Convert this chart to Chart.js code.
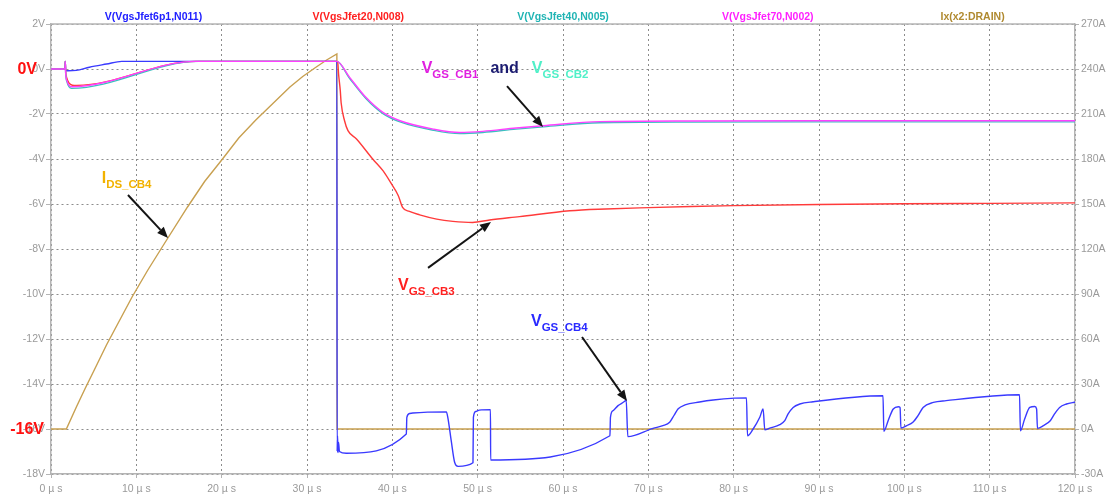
<!DOCTYPE html>
<html>
<head>
<meta charset="utf-8">
<script src="https://cdn.jsdelivr.net/npm/chart.js@4/dist/chart.umd.min.js"></script>
<style>
  html, body { margin: 0; padding: 0; background: #ffffff; }
  #wrap { width: 1113px; height: 496px; position: relative; }
</style>
</head>
<body>
<div id="wrap"><canvas id="c" width="1113" height="496"></canvas></div>
<script>
// Trace names shown above the plot
const seriesLabels = ['V(VgsJfet6p1,N011)', 'V(VgsJfet20,N008)', 'V(VgsJfet40,N005)', 'V(VgsJfet70,N002)', 'Ix(x2:DRAIN)'];

// Axis ticks
const timeTicks = [0, 10, 20, 30, 40, 50, 60, 70, 80, 90, 100, 110, 120];      // µs
const voltTicks = [-18, -16, -14, -12, -10, -8, -6, -4, -2, 0, 2];             // V
const ampTicks  = [-30, 0, 30, 60, 90, 120, 150, 180, 210, 240, 270];          // A

// V(VgsJfet6p1,N011)  -> VGS of CB4
const tCB4 = [0, 1.65, 1.67, 1.72, 2.0, 2.95, 4.5, 6.5, 8.3, 33.5, 33.53, 33.58, 33.63, 33.7, 33.8, 34.6,
  41.64, 41.7, 42.03, 42.4, 46.33, 46.5, 46.9, 47.3, 47.7, 49.45, 49.5, 49.77, 50.2, 51.5, 51.52,
  65.5, 65.56, 65.86, 66.45, 67.23, 67.4, 67.6, 70.55, 71.7, 72.5, 73.0, 73.5, 74.3, 76.0, 77.6, 80.1, 81.5,
  81.62, 82.28, 83.06, 83.45, 83.65, 84.23, 85.4, 85.99, 86.38, 86.97, 87.75, 89.3, 97.5,
  97.6, 98.1, 98.7, 99.3, 99.5, 99.6, 100.3, 101.0, 101.6, 102.2, 103.4, 104.9, 113.5,
  113.6, 114.1, 114.7, 115.3, 115.5, 115.6, 116.3, 117.1, 117.6, 118.2, 119.0, 119.8, 120];
const vCB4 = [0, 0, 0.33, -0.05, -0.08, -0.06, 0.08, 0.22, 0.34, 0.34, -17.0, -16.3, -17.05, -16.6, -17.0, -17.08,
  -16.22, -15.48, -15.31, -15.29, -15.24, -15.48, -16.52, -17.48, -17.66, -17.5, -15.48, -15.22, -15.16, -15.14, -17.38,
  -16.3, -15.48, -15.19, -14.96, -14.77, -14.7, -16.34, -15.97, -15.85, -15.7, -15.4, -15.1, -14.93, -14.8, -14.71, -14.63, -14.62,
  -16.3, -16.0, -15.48, -15.11, -16.04, -15.96, -15.81, -15.63, -15.33, -15.04, -14.89, -14.79, -14.52,
  -16.1, -15.63, -15.11, -15.01, -15.04, -15.96, -15.85, -15.7, -15.41, -15.04, -14.82, -14.74, -14.48,
  -16.08, -15.56, -15.04, -15.0, -15.11, -15.97, -15.85, -15.63, -15.33, -15.04, -14.89, -14.82, -14.81];

// V(VgsJfet20,N008)  -> VGS of CB3
const tCB3 = [0, 1.65, 1.67, 1.72, 1.85, 2.1, 2.5, 3.0, 17.0, 33.5, 33.6, 33.7, 33.9, 34.0, 34.4, 34.8, 35.8,
  37.7, 38.9, 39.9, 40.7, 41.2, 42.0, 43.2, 45.2, 47.1, 49.4, 51.4, 54.9, 60.8, 65, 70, 75, 80, 90, 100, 110, 120];
const vCB3 = [0, 0, 0.33, -0.1, -0.4, -0.62, -0.72, -0.73, 0.34, 0.34, 0.3, -0.22, -0.96, -1.5, -2.3, -2.74, -3.11,
  -4.0, -4.52, -5.11, -5.63, -6.15, -6.33, -6.48, -6.67, -6.77, -6.82, -6.71, -6.56, -6.3, -6.22, -6.16, -6.11, -6.07, -6.02, -5.99, -5.97, -5.95];

// V(VgsJfet40,N005)  -> VGS of CB2
const tCB2 = [0, 1.65, 1.67, 1.72, 1.9, 2.1, 2.4, 17.3, 33.5, 35.0, 36.9, 38.9, 40.9, 44.8, 47.9, 50.6, 54.5, 57.7, 64.3, 75, 90, 105, 120];
const vCB2 = [0, 0, 0.33, -0.2, -0.6, -0.78, -0.86, 0.34, 0.34, -0.42, -1.31, -1.98, -2.35, -2.72, -2.87, -2.82, -2.67, -2.57, -2.39, -2.36, -2.35, -2.35, -2.35];

// V(VgsJfet70,N002)  -> VGS of CB1
const tCB1 = [0, 1.65, 1.67, 1.72, 1.9, 2.1, 2.4, 17.0, 33.5, 35.0, 36.9, 38.9, 40.9, 44.8, 47.9, 50.6, 54.5, 57.7, 64.3, 75, 90, 105, 120];
const vCB1 = [0, 0, 0.33, -0.2, -0.55, -0.72, -0.79, 0.34, 0.34, -0.37, -1.26, -1.93, -2.3, -2.67, -2.82, -2.77, -2.62, -2.52, -2.34, -2.31, -2.3, -2.3, -2.3];

// Ix(x2:DRAIN)  -> IDS of CB4 (right axis, A)
const tIds = [0, 1.8, 3, 4, 5.3, 6.5, 8, 9.5, 11.35, 13.55, 16, 18, 20.1, 22, 24, 26, 28, 29.5, 31, 32.3, 33.5, 33.52, 120];
const aIds = [0, 0, 15, 27, 42, 56, 72, 88, 106, 126, 148, 165, 180, 194, 206, 217, 228, 235, 241, 246, 250, 0, 0];

const seriesColors = ['#3a3aff', '#ff3a3a', '#3cc0c0', '#ff40ff', '#c8a050'];
const legendColors = ['#2020ff', '#ff2020', '#20b4b4', '#ff20ff', '#b08a30'];

const pts = (ts, vs) => ts.map((t, i) => ({ x: t, y: vs[i] }));

const FONT = '"Liberation Sans", Arial, sans-serif';
const axisGray = '#b4b4b4';
const labelGray = '#9a9a9a';

// Callouts placed in data units (µs, V)
const callouts = [
  { at: [5.94, -5.08], parts: [{ t: 'I', c: '#f2b200' }, { t: 'DS_CB4', c: '#f2b200', sub: true }],
    arrow: [[9.02, -5.6], [13.71, -7.51]] },
  { at: [43.44, -0.19], parts: [{ t: 'V', c: '#e020e0' }, { t: 'GS_CB1', c: '#e020e0', sub: true },
      { t: 'and', c: '#1c1c70', gap: 12 }, { t: 'V', c: '#50f0c8', gap: 13 }, { t: 'GS_CB2', c: '#50f0c8', sub: true }],
    arrow: [[53.44, -0.76], [57.66, -2.58]] },
  { at: [40.67, -9.8], parts: [{ t: 'V', c: '#ff2020' }, { t: 'GS_CB3', c: '#ff2020', sub: true }],
    arrow: [[44.18, -8.84], [51.56, -6.8]] },
  { at: [56.25, -11.42], parts: [{ t: 'V', c: '#2a2aff' }, { t: 'GS_CB4', c: '#2a2aff', sub: true }],
    arrow: [[62.23, -11.91], [67.5, -14.76]] }
];
// Level markers beside the left axis
const levelMarks = [{ v: 0, text: '0V', dx: -14 }, { v: -16, text: '-16V', dx: -7 }];

const decor = {
  id: 'decor',
  beforeDatasetsDraw(chart) {
    const { ctx, chartArea: a } = chart;
    ctx.save();
    ctx.strokeStyle = axisGray;
    ctx.lineWidth = 1.5;
    ctx.beginPath();
    ctx.moveTo(a.left, a.top); ctx.lineTo(a.right, a.top);
    ctx.stroke();
    ctx.restore();
  },
  afterDraw(chart) {
    const { ctx, chartArea: a, scales } = chart;
    const X = v => scales.x.getPixelForValue(v);
    const Y = v => scales.y.getPixelForValue(v);
    ctx.save();
    // trace names across the top
    const slot = (a.right - a.left) / seriesLabels.length;
    ctx.font = 'bold 10.5px ' + FONT;
    ctx.textAlign = 'center';
    ctx.textBaseline = 'middle';
    seriesLabels.forEach((s, i) => {
      ctx.fillStyle = legendColors[i];
      ctx.fillText(s, a.left + slot * (i + 0.5), 17);
    });
    // level markers
    ctx.font = 'bold 16px ' + FONT;
    ctx.textAlign = 'right';
    ctx.fillStyle = '#ff1010';
    levelMarks.forEach(m => ctx.fillText(m.text, a.left + m.dx, Y(m.v) + 1));
    // callout arrows
    ctx.strokeStyle = '#141414';
    ctx.fillStyle = '#141414';
    ctx.lineWidth = 2;
    callouts.forEach(c => {
      const [p0, p1] = c.arrow;
      const x0 = X(p0[0]), y0 = Y(p0[1]), x1 = X(p1[0]), y1 = Y(p1[1]);
      const ang = Math.atan2(y1 - y0, x1 - x0);
      const hl = 11, hw = 4.5;
      const bx = x1 - hl * Math.cos(ang), by = y1 - hl * Math.sin(ang);
      ctx.beginPath(); ctx.moveTo(x0, y0); ctx.lineTo(bx, by); ctx.stroke();
      ctx.beginPath();
      ctx.moveTo(x1, y1);
      ctx.lineTo(bx + hw * Math.sin(ang), by - hw * Math.cos(ang));
      ctx.lineTo(bx - hw * Math.sin(ang), by + hw * Math.cos(ang));
      ctx.closePath(); ctx.fill();
    });
    // callout texts
    ctx.textAlign = 'left';
    ctx.textBaseline = 'alphabetic';
    callouts.forEach(c => {
      let x = X(c.at[0]);
      const yb = Y(c.at[1]);
      c.parts.forEach(p => {
        x += p.gap || 0;
        ctx.font = (p.sub ? 'bold 11.5px ' : 'bold 16px ') + FONT;
        ctx.fillStyle = p.c;
        ctx.fillText(p.t, x, yb + (p.sub ? 5 : 0));
        x += ctx.measureText(p.t).width;
      });
    });
    ctx.restore();
  }
};

const ds = (label, data, color, axis, order, smooth) => ({
  label, data, borderColor: color, backgroundColor: color, borderWidth: 1.4,
  pointRadius: 0, fill: false, yAxisID: axis, order,
  cubicInterpolationMode: smooth ? 'monotone' : 'default', tension: 0
});

new Chart(document.getElementById('c'), {
  type: 'line',
  data: {
    datasets: [
      ds(seriesLabels[0], pts(tCB4, vCB4), seriesColors[0], 'y', 4, true),
      ds(seriesLabels[1], pts(tCB3, vCB3), seriesColors[1], 'y', 3, true),
      ds(seriesLabels[2], pts(tCB2, vCB2), seriesColors[2], 'y', 2, true),
      ds(seriesLabels[3], pts(tCB1, vCB1), seriesColors[3], 'y', 1, true),
      ds(seriesLabels[4], pts(tIds, aIds), seriesColors[4], 'y2', 5, false)
    ]
  },
  options: {
    responsive: false,
    animation: false,
    events: [],
    layout: { padding: { top: 24, left: 0, right: 0, bottom: 0 } },
    plugins: { legend: { display: false }, tooltip: { enabled: false }, title: { display: false } },
    scales: {
      x: {
        type: 'linear', min: 0, max: 120,
        afterBuildTicks: s => { s.ticks = timeTicks.map(v => ({ value: v })); },
        afterFit: s => { s.height = 22; },
        ticks: { callback: v => v + ' µ s', color: labelGray, font: { family: FONT, size: 10.5 }, maxRotation: 0, padding: 5 },
        grid: { color: '#8c8c8c', lineWidth: 1, tickColor: axisGray, tickLength: 4, tickBorderDash: [] },
        border: { color: axisGray, width: 1.5, dash: [2, 3] }
      },
      y: {
        position: 'left', min: -18, max: 2,
        afterBuildTicks: s => { s.ticks = voltTicks.map(v => ({ value: v })); },
        afterFit: s => { s.width = 51; },
        ticks: { callback: v => v + 'V', color: labelGray, font: { family: FONT, size: 10.5 }, padding: 1 },
        grid: { color: '#8c8c8c', lineWidth: 1, tickColor: axisGray, tickLength: 5, tickBorderDash: [] },
        border: { color: axisGray, width: 1.5, dash: [2, 3] }
      },
      y2: {
        position: 'right', min: -30, max: 270,
        afterBuildTicks: s => { s.ticks = ampTicks.map(v => ({ value: v })); },
        afterFit: s => { s.width = 38; },
        ticks: { callback: v => v + 'A', color: labelGray, font: { family: FONT, size: 10.5 }, padding: 2 },
        grid: { drawOnChartArea: false, tickColor: axisGray, tickLength: 4 },
        border: { color: axisGray, width: 1.5 }
      }
    }
  },
  plugins: [decor]
});
</script>
</body>
</html>
